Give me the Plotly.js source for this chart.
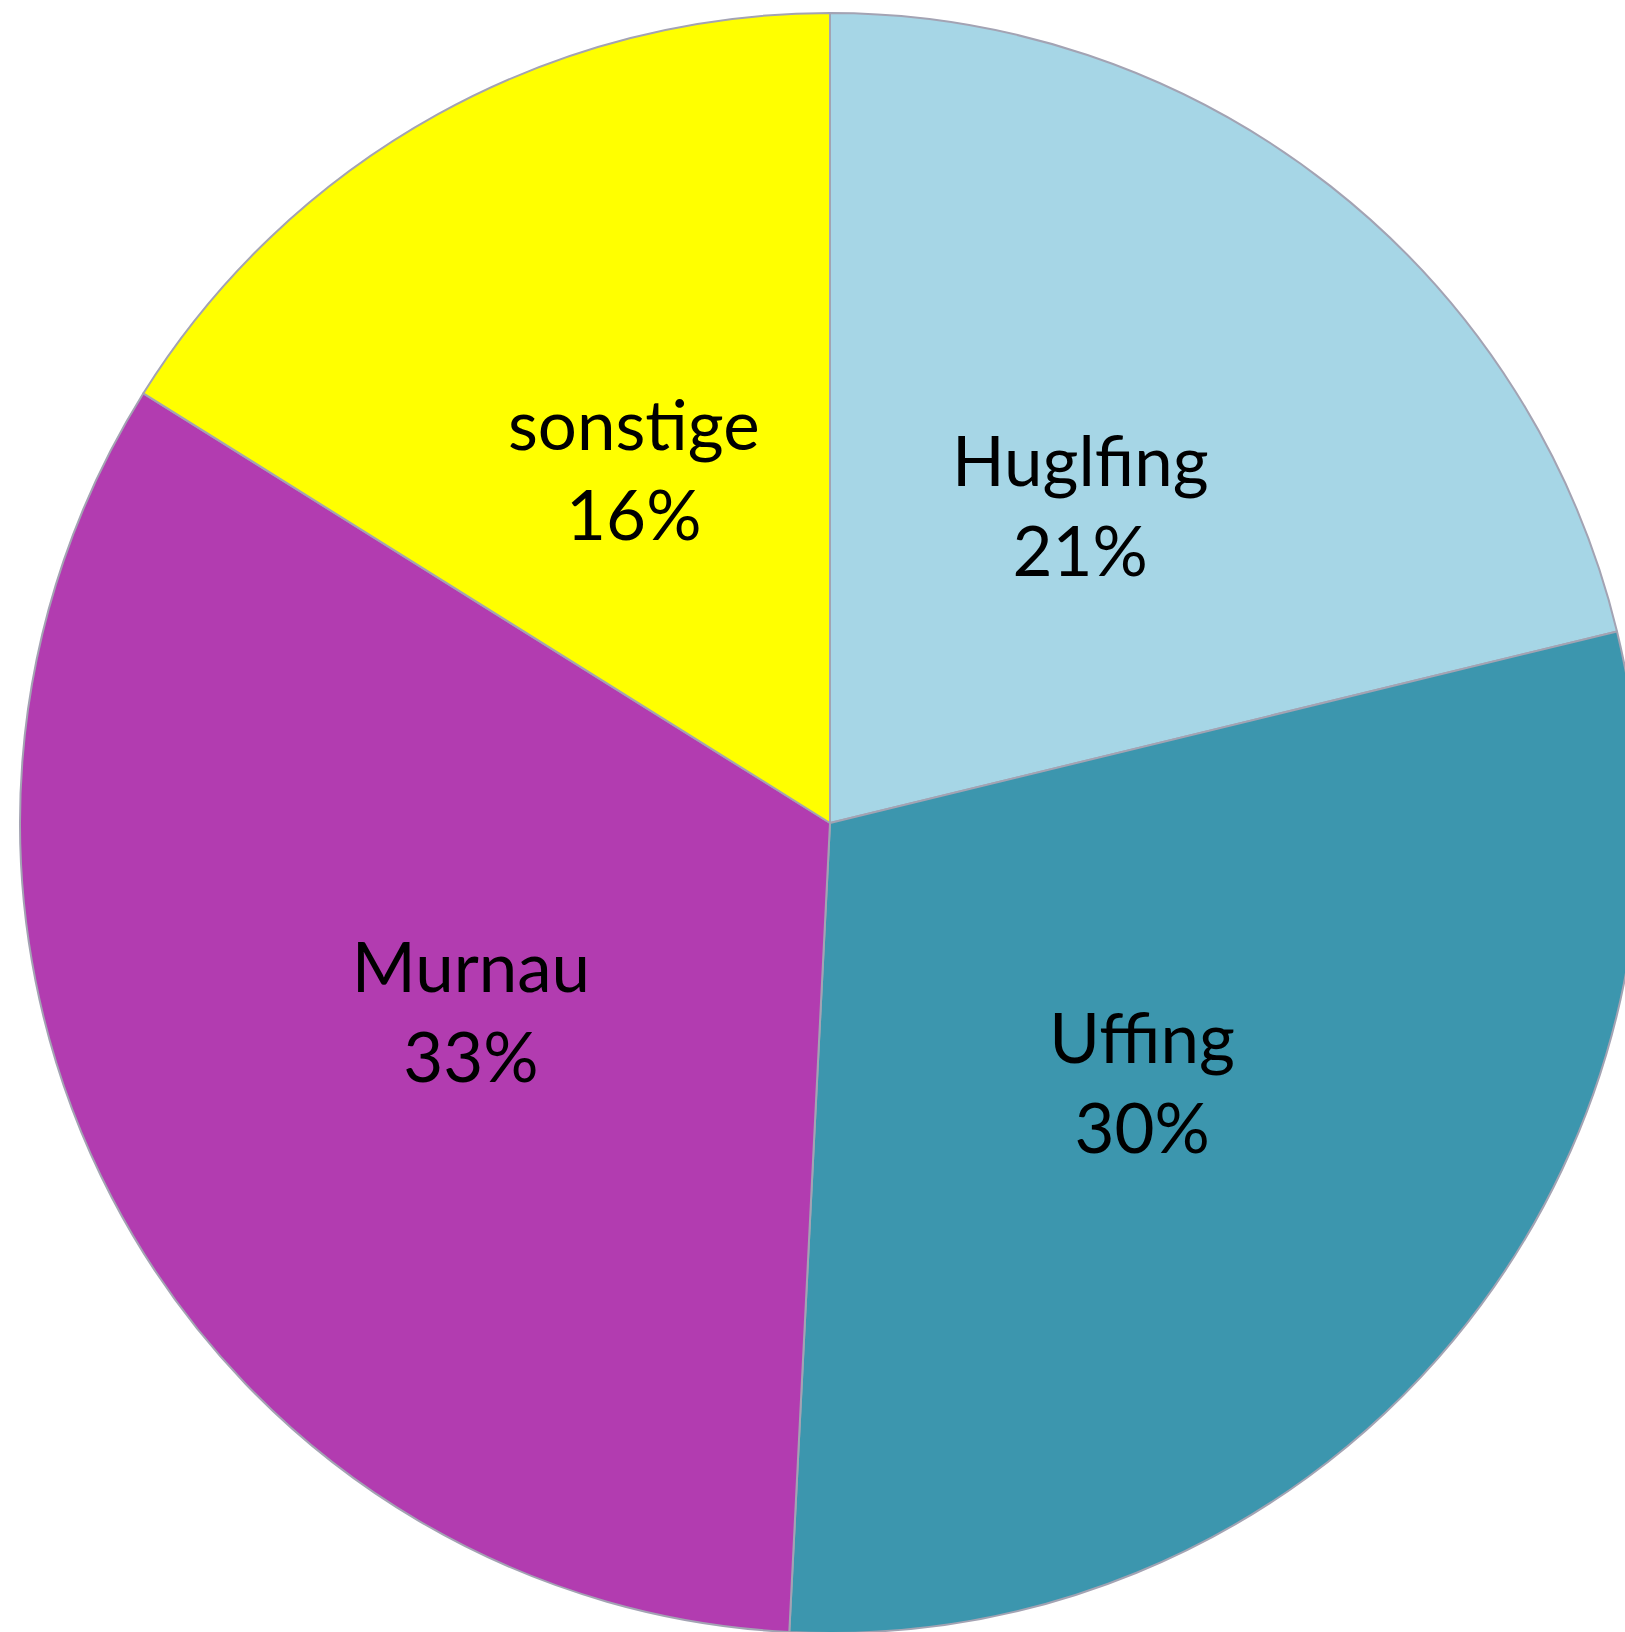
<!DOCTYPE html>
<html>
<head>
<meta charset="utf-8">
<script src="https://cdn.plot.ly/plotly-3.0.1.min.js"></script>
<style>
  html, body { margin: 0; padding: 0; background: #fff; overflow: hidden; }
  #chart { width: 1640px; height: 1633px; }
</style>
</head>
<body>
<div id="chart"></div>
<script>
// Anteile nach Ort (clockwise from 12 o'clock)
const labels = ["Huglfing", "Uffing", "Murnau", "sonstige"];
const values = [21.2, 29.6, 33.1, 16.1];
const colors = ["#A6D6E6", "#3C96AE", "#B23CB0", "#FFFF00"];

// second, transparent pie only carries the labels; its hole puts
// every label in the middle of the ring, i.e. at half the main radius
const labelDomain = [0.1296, 0.8704];

const data = [
  {
    type: "pie",
    labels: labels,
    values: values,
    sort: false,
    direction: "clockwise",
    rotation: 0,
    textinfo: "none",
    marker: {
      colors: colors,
      line: { color: "#A3A3B3", width: 2 },
    },
    showlegend: false,
  },
  {
    type: "pie",
    labels: labels,
    values: values,
    sort: false,
    direction: "clockwise",
    rotation: 0,
    hole: 0.35,
    domain: { x: labelDomain, y: labelDomain },
    texttemplate: "%{label}<br>%{percent:.0%}",
    textinfo: "text",
    textposition: "inside",
    insidetextorientation: "horizontal",
    textfont: { family: "Lato, 'Open Sans', sans-serif", size: 69, color: "#000" },
    marker: {
      colors: labels.map(() => "rgba(0,0,0,0)"),
      line: { width: 0 },
    },
    showlegend: false,
  },
];

const layout = {
  width: 1640,
  height: 1633,
  margin: { l: 20, r: 0, t: 13, b: 0 },
  paper_bgcolor: "#fff",
  showlegend: false,
};

Plotly.newPlot("chart", data, layout, { displayModeBar: false, staticPlot: true });
</script>
</body>
</html>
